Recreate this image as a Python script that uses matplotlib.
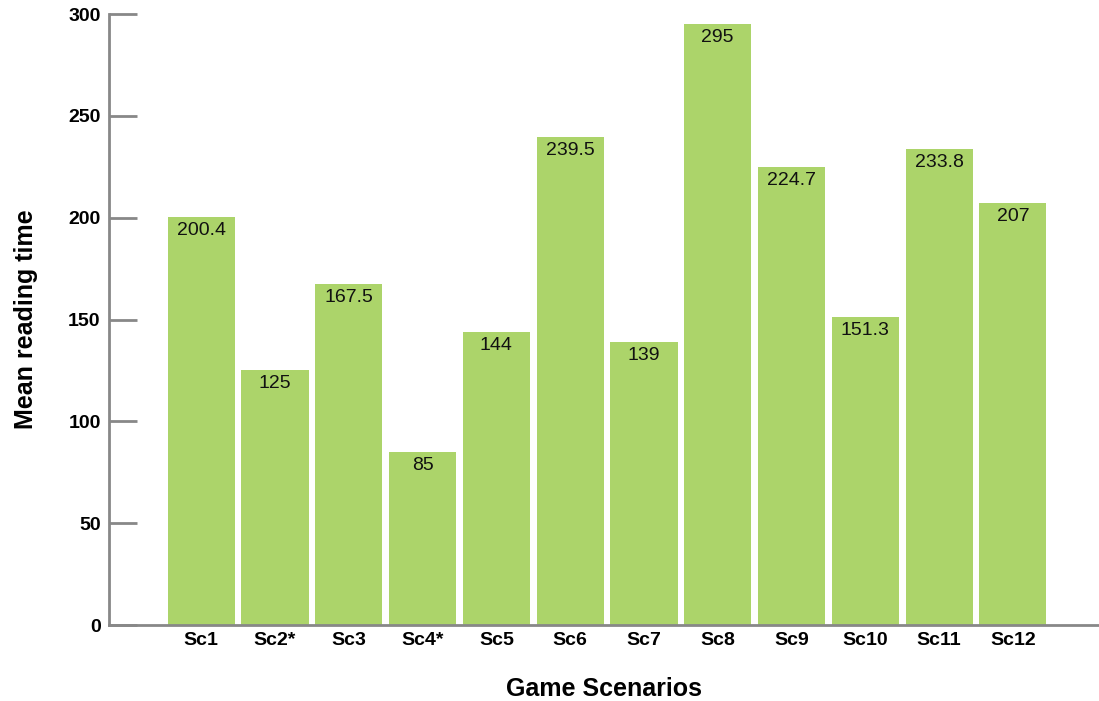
import matplotlib.pyplot as plt
import numpy as np

# %%
# Data
scenarios = ['Sc1', 'Sc2*', 'Sc3', 'Sc4*', 'Sc5', 'Sc6', 'Sc7', 'Sc8', 'Sc9', 'Sc10', 'Sc11', 'Sc12']
mean_times = [200.4, 125, 167.5, 85, 144, 239.5, 139, 295, 224.7, 151.3, 233.8, 207]
value_labels = ['200.4', '125', '167.5', '85', '144', '239.5', '139', '295', '224.7', '151.3', '233.8', '207']
y_ticks = [0, 50, 100, 150, 200, 250, 300]

plt.rcParams['font.family'] = ['Liberation Sans', 'DejaVu Sans']

# %%
fig = plt.figure(figsize=(10.99, 7.01), dpi=100)
ax = fig.add_axes([0.0992, 0.1084, 0.901, 0.8716])

x = np.arange(len(scenarios))
bars = ax.bar(x, mean_times, width=0.91, color='#acd46a')

# Value labels inside the top of each bar
for xi, val, lab in zip(x, mean_times, value_labels):
    ax.annotate(lab, (xi, val), xytext=(0, -3.5), textcoords='offset points',
                ha='center', va='top', fontsize=14, color='#111111')

ax.set_xlim(-1.25, 12.17)
ax.set_ylim(0, 300)
ax.set_xticks(x)
ax.set_xticklabels(scenarios, fontsize=14, fontweight='bold')
ax.set_yticks(y_ticks)
ax.set_yticklabels([str(t) for t in y_ticks], fontsize=14, fontweight='bold')
ax.tick_params(axis='x', length=0, pad=5)
ax.tick_params(axis='y', direction='in', length=20, width=2, color='#888888', pad=6)

for side in ['top', 'right']:
    ax.spines[side].set_visible(False)
for side in ['left', 'bottom']:
    ax.spines[side].set_color('#888888')
    ax.spines[side].set_linewidth(2)

ax.set_ylabel('Mean reading time', fontsize=18, fontweight='bold', labelpad=22)
ax.set_xlabel('Game Scenarios', fontsize=18, fontweight='bold', labelpad=20)

fig.savefig('out.png', dpi=100)
